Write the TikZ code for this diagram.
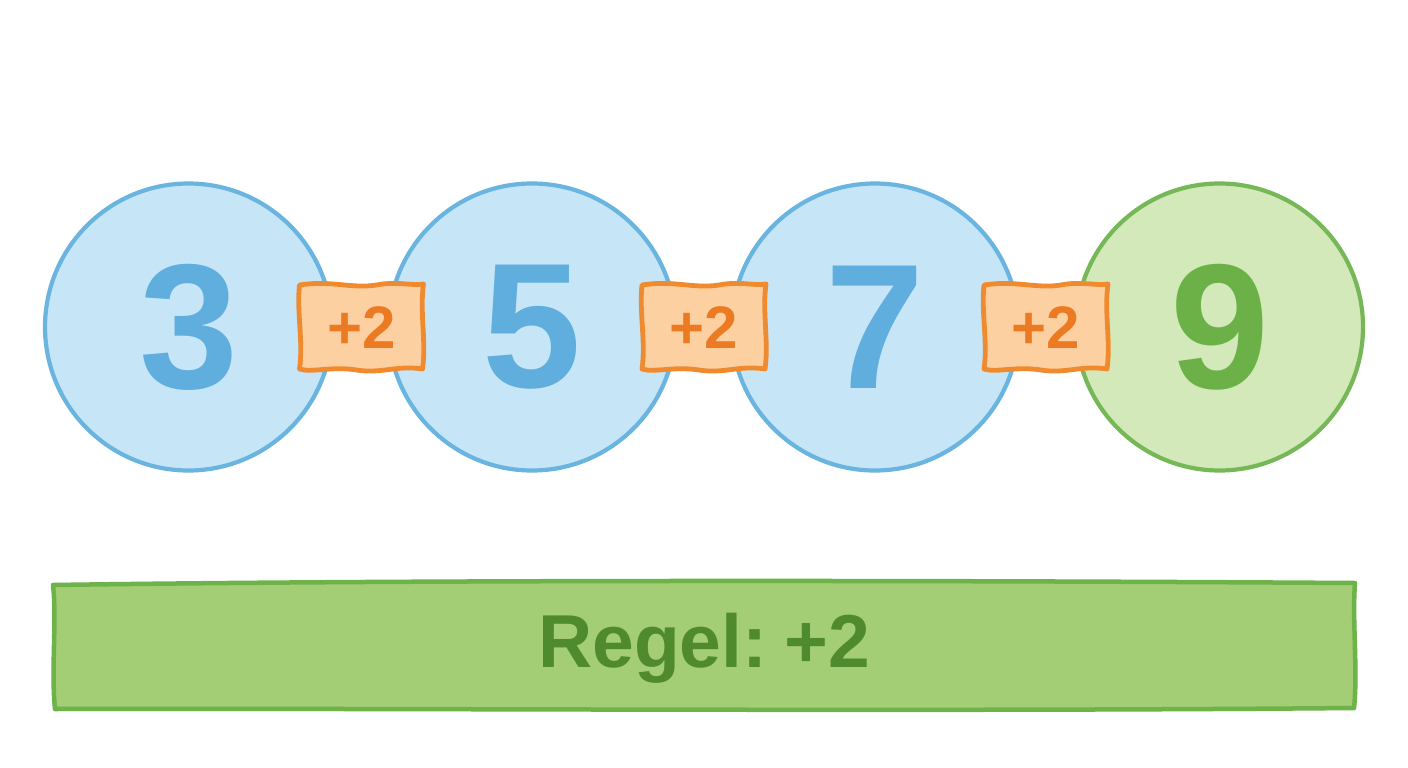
\documentclass[tikz,border=0pt]{standalone}
\usepackage{fontspec}
\setmainfont{Liberation Sans}
\definecolor{bluefill}{HTML}{C6E6F8}
\definecolor{blueline}{HTML}{6AB4E0}
\definecolor{bluetext}{HTML}{5FAEDD}
\definecolor{greenfill}{HTML}{D4E9B9}
\definecolor{greenline}{HTML}{76B857}
\definecolor{greentext}{HTML}{6BB148}
\definecolor{orfill}{HTML}{FDD0A2}
\definecolor{orline}{HTML}{F08A2E}
\definecolor{ortext}{HTML}{EC7A22}
\definecolor{barfill}{HTML}{A3CE75}
\definecolor{barline}{HTML}{6DB34A}
\definecolor{bartext}{HTML}{4F8B2E}
\tikzset{
  numcircle/.style={circle, minimum size=287pt, inner sep=0pt, line width=4.2pt,
    font=\bfseries\fontsize{178}{178}\selectfont},
  bluec/.style={numcircle, draw=blueline, fill=bluefill, text=bluetext},
  greenc/.style={numcircle, draw=greenline, fill=greenfill, text=greentext},
  steplabel/.style={inner sep=0pt, text=ortext, font=\bfseries\fontsize{60}{60}\selectfont},
  wob/.style={draw=orline, fill=orfill, line width=4.8pt, line join=round},
}
\newcommand{\wobblebox}[1]{%
  \begin{scope}[shift={(#1)}]
    \path[wob] (-62,-42) .. controls (-30,-47) and (-10,-38) .. (15,-42)
      .. controls (35,-46) and (50,-41) .. (62,-43)
      .. controls (58,-15) and (65,15) .. (61,42)
      .. controls (35,38) and (20,47) .. (-5,43)
      .. controls (-30,39) and (-50,46) .. (-62,42)
      .. controls (-58,15) and (-65,-15) .. (-62,-42) -- cycle;
  \end{scope}}
\begin{document}
\begin{tikzpicture}[x=1pt,y=-1pt]
  \useasboundingbox (0,0) rectangle (1408,768);
  \fill[white] (0,0) rectangle (1408,768);
  % circles
  \node[bluec] (c1) at (188.5,327) {3};
  \node[bluec] (c2) at (532,327) {5};
  \node[bluec] (c3) at (875,327) {7};
  \node[greenc] (c4) at (1219.5,327) {9};
  % step boxes
  \wobblebox{361.5,327}
  \node[steplabel] (s1) at (361.5,328) {+2};
  \wobblebox{704,327}
  \node[steplabel] (s2) at (704,328) {+2};
  \wobblebox{1046,327}
  \node[steplabel] (s3) at (1046,328) {+2};
  % rule bar
  \path[draw=barline, fill=barfill, line width=4.5pt, line join=round]
    (53,585) .. controls (400,580) and (900,580) .. (1355,583)
    .. controls (1352,620) and (1358,670) .. (1354,708)
    .. controls (900,712) and (400,708) .. (55,709)
    .. controls (51,670) and (57,620) .. (53,585) -- cycle;
  \node[inner sep=0pt, text=bartext, font=\bfseries\fontsize{75}{75}\selectfont] (rule) at (704,648) {Regel:\kern-4pt\ +2};
\end{tikzpicture}
\end{document}
